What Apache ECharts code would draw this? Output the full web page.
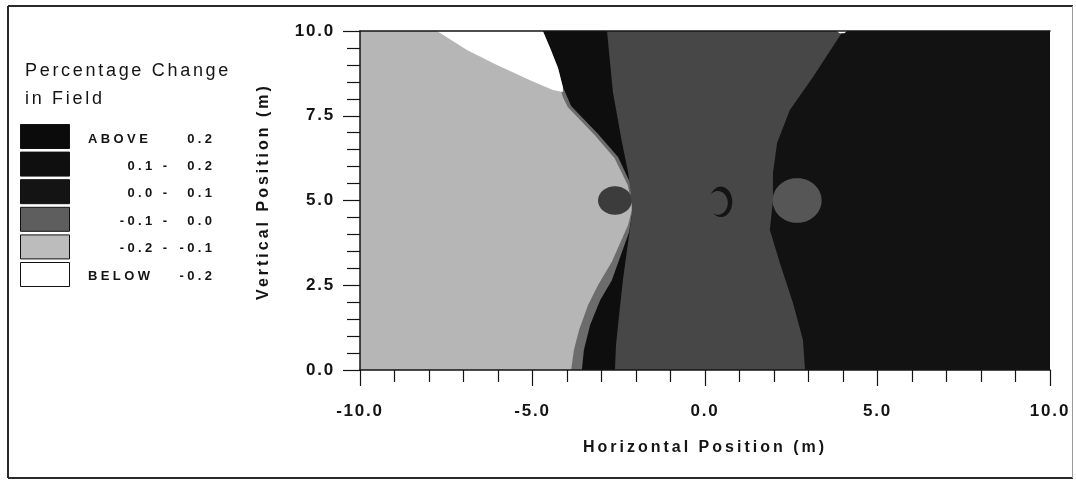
<!DOCTYPE html>
<html>
<head>
<meta charset="utf-8">
<script src="https://cdn.jsdelivr.net/npm/echarts@6/dist/echarts.min.js"></script>
<style>
  html, body { margin: 0; padding: 0; background: #ffffff; }
  #chart { width: 1076px; height: 481px; }
</style>
</head>
<body>
<div id="chart"></div>
<script>
// ---- Contour bands of the percentage change in field, in metres [x, y] ----
// Each band polygon runs from its left boundary to the right edge of the map;
// bands are painted in order so later ones sit on top of earlier ones.
const bandBase = [[-10, 0], [10, 0], [10, 10], [-10, 10]];
const bandMidStrip = [[-4.70, 10], [10, 10], [10, 0], [-3.88, 0], [-3.80, 0.59], [-3.65, 1.18],
  [-3.39, 1.92], [-3.10, 2.51], [-2.70, 3.19], [-2.23, 4.28], [-2.12, 4.72], [-2.12, 4.87],
  [-2.24, 5.46], [-2.62, 6.25], [-3.20, 6.93], [-3.98, 7.76], [-4.12, 8.05], [-4.20, 8.35],
  [-4.30, 8.91], [-4.51, 9.50]];
const bandDarkStrip = [[-4.70, 10], [10, 10], [10, 0], [-3.57, 0], [-3.51, 0.59], [-3.33, 1.33],
  [-3.04, 2.06], [-2.70, 2.65], [-2.20, 4.07], [-2.12, 4.57], [-2.09, 4.87], [-2.17, 5.52],
  [-2.52, 6.28], [-3.10, 6.96], [-3.88, 7.79], [-4.12, 8.35], [-4.26, 8.91], [-4.49, 9.50]];
const bandCentre = [[-2.84, 10], [10, 10], [10, 0], [-2.61, 0], [-2.58, 0.74], [-2.49, 1.62],
  [-2.38, 2.65], [-2.26, 3.54], [-2.12, 4.57], [-2.12, 5.01], [-2.23, 5.84], [-2.41, 6.73],
  [-2.67, 8.20]];
const bandRight = [[4.00, 10], [10, 10], [10, 0], [2.90, 0], [2.84, 0.88], [2.55, 1.98],
  [2.17, 3.16], [1.88, 4.13], [1.97, 5.01], [1.97, 5.81], [2.09, 6.70], [2.46, 7.67],
  [3.13, 8.64]];
const bandBelowTopLeft = [[-7.77, 10], [-4.70, 10], [-4.49, 9.50], [-4.26, 8.91], [-4.12, 8.35],
  [-4.12, 8.20], [-4.41, 8.26], [-5.07, 8.55], [-6.03, 9.00], [-6.90, 9.44]];
const bandBelowSpeck = [[3.82, 10], [4.12, 10], [4.04, 9.93], [3.90, 9.93]];

// Closed lobes round the conductors: [centre x, centre y, half-width, half-height]
const lobeLeft = [-2.61, 5.0, 0.49, 0.42];
const lobeRight = [2.67, 5.0, 0.71, 0.66];
const crescentOuter = [0.46, 4.96, 0.33, 0.45];
const crescentInner = [0.37, 4.93, 0.29, 0.35];

// Legend classes
const levelFrom = ['ABOVE', '0.1 -', '0.0 -', '-0.1 -', '-0.2 -', 'BELOW'];
const levelTo = ['0.2', '0.2', '0.1', '0.0', '-0.1', '-0.2'];

// Axis ranges and tick steps
const xRange = [-10, 10];
const yRange = [0, 10];
const xMajor = 5, yMajor = 2.5;

// ---- Styling ----
const SHADE = {
  base: '#b6b6b6', mid: '#6c6c6c', dark: '#0e0e0e', centre: '#474747', right: '#121212',
  white: '#ffffff', lobeL: '#3c3c3c', lobeR: '#565656', crescent: '#141414'
};
const SWATCH = ['#0b0b0b', '#0f0f0f', '#141414', '#5e5e5e', '#bcbcbc', '#ffffff'];
const FONT = '"Liberation Sans", Arial, Helvetica, sans-serif';
const INK = '#141414';

// Wide letter tracking of the printed lettering, keyed by font size in px.
const TRACKING = { 13: 3.4, 16: 3.0, 17: 1.8, 18: 2.7 };
(function () {
  const proto = CanvasRenderingContext2D.prototype;
  if (!('letterSpacing' in proto)) return;
  const fill = proto.fillText;
  proto.fillText = function (text, x, y, maxWidth) {
    const m = /(\d+(?:\.\d+)?)px/.exec(this.font);
    const t = m ? TRACKING[Math.round(+m[1])] : 0;
    this.letterSpacing = (t || 0) + 'px';
    return maxWidth === undefined ? fill.call(this, text, x, y) : fill.call(this, text, x, y, maxWidth);
  };
})();

const layers = [
  { poly: bandBase, fill: SHADE.base },
  { poly: bandMidStrip, fill: SHADE.mid },
  { poly: bandDarkStrip, fill: SHADE.dark },
  { poly: bandCentre, fill: SHADE.centre },
  { poly: bandRight, fill: SHADE.right },
  { poly: bandBelowTopLeft, fill: SHADE.white },
  { poly: bandBelowSpeck, fill: SHADE.white },
  { lobe: lobeLeft, fill: SHADE.lobeL },
  { lobe: lobeRight, fill: SHADE.lobeR },
  { lobe: crescentOuter, fill: SHADE.crescent },
  { lobe: crescentInner, fill: SHADE.centre }
];

function renderLayer(params, api) {
  const layer = layers[params.dataIndex];
  let pts;
  if (layer.poly) {
    pts = layer.poly.map(p => api.coord(p));
  } else {
    const [cx, cy, rx, ry] = layer.lobe;
    pts = [];
    for (let k = 0; k < 96; k++) {
      const a = (k / 96) * Math.PI * 2;
      pts.push(api.coord([cx + rx * Math.cos(a), cy + ry * Math.sin(a)]));
    }
  }
  return { type: 'polygon', shape: { points: pts }, style: { fill: layer.fill } };
}

// ---- Frame and legend drawn as graphic elements ----
const graphics = [
  { type: 'line', shape: { x1: 8, y1: 6, x2: 1073, y2: 6 }, style: { stroke: '#2a2a2a', lineWidth: 2 } },
  { type: 'line', shape: { x1: 8, y1: 6, x2: 8, y2: 478 }, style: { stroke: '#2a2a2a', lineWidth: 2 } },
  { type: 'line', shape: { x1: 8, y1: 478, x2: 1073, y2: 478 }, style: { stroke: '#2a2a2a', lineWidth: 2 } },
  { type: 'line', shape: { x1: 1072.5, y1: 6, x2: 1072.5, y2: 478 }, style: { stroke: '#9a9a9a', lineWidth: 1 } },
  {
    type: 'text', x: 25, y: 85.5,
    style: {
      text: 'Percentage Change\nin Field', fontSize: 18, fontFamily: FONT, fill: INK,
      lineHeight: 28, align: 'left', verticalAlign: 'middle', textAlign: 'left', textVerticalAlign: 'middle'
    }
  }
];
levelFrom.forEach((from, i) => {
  graphics.push({
    type: 'rect', shape: { x: 20.5, y: 124.5 + 27.6 * i, width: 49, height: 24 },
    style: { fill: SWATCH[i], stroke: '#111111', lineWidth: 1 }
  });
  const isWord = /^[A-Z]/.test(from);
  const ty = 139 + 27.4 * i;
  graphics.push({
    type: 'text', x: isWord ? 88 : 170.4, y: ty,
    style: {
      text: from, fontSize: 13, fontWeight: 'bold', fontFamily: FONT, fill: INK,
      align: isWord ? 'left' : 'right', verticalAlign: 'middle',
      textAlign: isWord ? 'left' : 'right', textVerticalAlign: 'middle'
    }
  });
  graphics.push({
    type: 'text', x: 215.4, y: ty,
    style: {
      text: levelTo[i], fontSize: 13, fontWeight: 'bold', fontFamily: FONT, fill: INK,
      align: 'right', verticalAlign: 'middle', textAlign: 'right', textVerticalAlign: 'middle'
    }
  });
});

const chart = echarts.init(document.getElementById('chart'), null, { renderer: 'canvas' });
const axisLineStyle = { color: INK, width: 1.5 };
chart.setOption({
  animation: false,
  backgroundColor: '#ffffff',
  grid: { left: 360, right: 26, top: 31, bottom: 111, containLabel: false, outerBoundsMode: 'none' },
  xAxis: [
    {
      type: 'value', min: xRange[0], max: xRange[1], interval: xMajor, z: 5,
      axisLine: { show: true, onZero: false, lineStyle: axisLineStyle },
      axisTick: { show: true, length: 16, lineStyle: { color: INK, width: 1.2 } },
      minorTick: { show: true, splitNumber: 5, length: 12, lineStyle: { color: INK, width: 1.2 } },
      splitLine: { show: false }, minorSplitLine: { show: false },
      axisLabel: {
        margin: 33, fontSize: 17, fontWeight: 'bold', fontFamily: FONT, color: INK,
        formatter: v => v.toFixed(1)
      },
      name: 'Horizontal Position (m)', nameLocation: 'middle', nameGap: 70,
      nameTextStyle: { fontSize: 16, fontWeight: 'bold', fontFamily: FONT, color: INK }
    },
    {
      type: 'value', position: 'top', min: xRange[0], max: xRange[1], z: 5,
      axisLine: { show: true, onZero: false, lineStyle: axisLineStyle },
      axisTick: { show: false }, axisLabel: { show: false }, splitLine: { show: false }
    }
  ],
  yAxis: {
    type: 'value', min: yRange[0], max: yRange[1], interval: yMajor, z: 5,
    axisLine: { show: true, onZero: false, lineStyle: axisLineStyle },
    axisTick: { show: true, length: 17, lineStyle: { color: INK, width: 1.2 } },
    minorTick: { show: true, splitNumber: 5, length: 13, lineStyle: { color: INK, width: 1.2 } },
    splitLine: { show: false }, minorSplitLine: { show: false },
    axisLabel: {
      margin: 25, fontSize: 17, fontWeight: 'bold', fontFamily: FONT, color: INK,
      formatter: v => v.toFixed(1)
    },
    name: 'Vertical Position (m)', nameLocation: 'middle', nameGap: 88, nameRotate: 90,
    nameTextStyle: { fontSize: 16, fontWeight: 'bold', fontFamily: FONT, color: INK, padding: [0, 0, 0, 18] }
  },
  series: [{
    type: 'custom',
    coordinateSystem: 'cartesian2d',
    silent: true,
    renderItem: renderLayer,
    data: layers.map((_, i) => [i, 0])
  }],
  graphic: { elements: graphics }
});
</script>
</body>
</html>
